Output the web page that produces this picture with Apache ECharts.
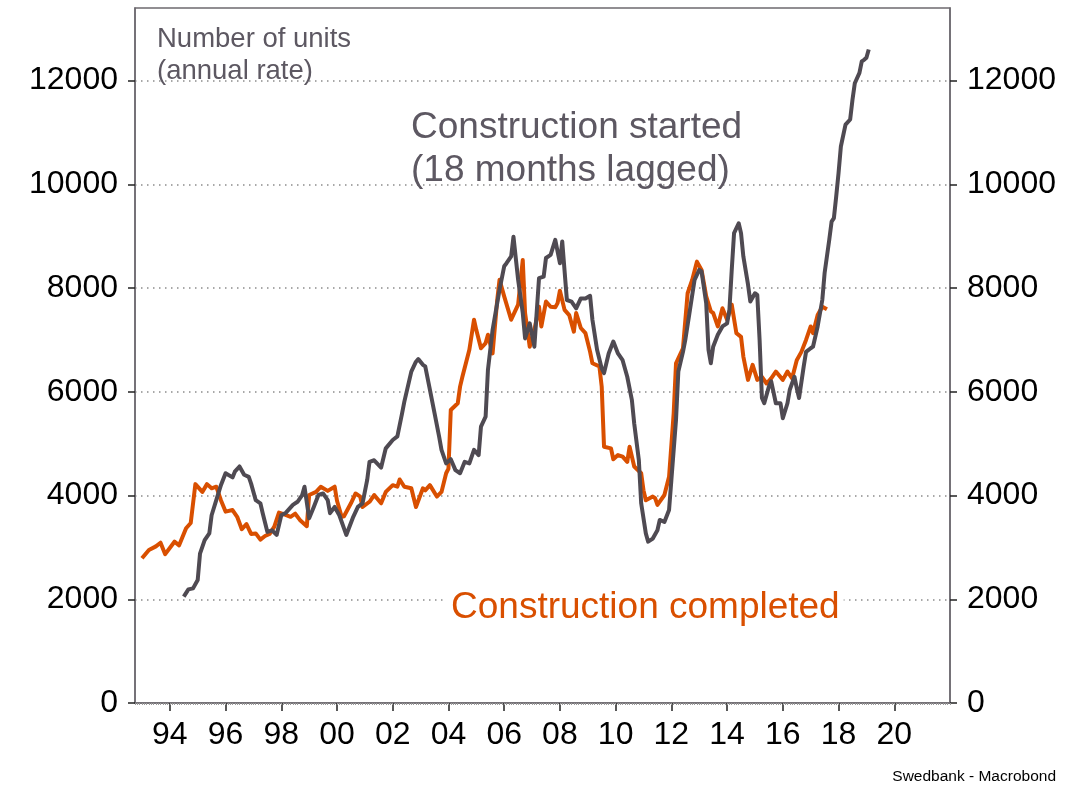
<!DOCTYPE html>
<html>
<head>
<meta charset="utf-8">
<script src="https://cdn.jsdelivr.net/npm/echarts@6/dist/echarts.min.js"></script>
<style>
  html, body { margin: 0; padding: 0; background: #fff; }
  #chart { width: 1089px; height: 785px; }
</style>
</head>
<body>
<div id="chart"></div>
<script>
// x tick labels (every second year), y tick labels
var yearTicks = [1994, 1996, 1998, 2000, 2002, 2004, 2006, 2008, 2010, 2012, 2014, 2016, 2018, 2020];
var unitTicks = [0, 2000, 4000, 6000, 8000, 10000, 12000];

// Construction completed (annual rate)
var completed = [
  ['1993-01', 2790], ['1993-04', 2950], ['1993-07', 3020], ['1993-09', 3090], ['1993-11', 2870],
  ['1994-03', 3110], ['1994-05', 3040], ['1994-08', 3370], ['1994-10', 3470], ['1994-12', 4220],
  ['1995-03', 4070], ['1995-05', 4220], ['1995-07', 4140], ['1995-09', 4170], ['1995-11', 3910],
  ['1996-01', 3690], ['1996-04', 3720], ['1996-06', 3590], ['1996-08', 3350], ['1996-10', 3450],
  ['1996-12', 3260], ['1997-02', 3270], ['1997-04', 3150], ['1997-06', 3220], ['1997-08', 3260],
  ['1997-10', 3400], ['1997-12', 3670], ['1998-02', 3640], ['1998-05', 3590], ['1998-07', 3650],
  ['1998-09', 3530], ['1998-12', 3410], ['1999-01', 4010], ['1999-04', 4070], ['1999-06', 4170],
  ['1999-09', 4090], ['1999-12', 4170], ['2000-01', 3900], ['2000-03', 3590], ['2000-04', 3600],
  ['2000-07', 3850], ['2000-09', 4040], ['2000-11', 3980], ['2000-12', 3780], ['2001-03', 3880],
  ['2001-05', 4010], ['2001-08', 3850], ['2001-10', 4070], ['2002-01', 4200], ['2002-03', 4170],
  ['2002-04', 4310], ['2002-06', 4170], ['2002-09', 4140], ['2002-11', 3780], ['2003-02', 4140],
  ['2003-03', 4100], ['2003-05', 4200], ['2003-08', 3980], ['2003-10', 4070], ['2003-12', 4430],
  ['2004-01', 4520], ['2004-02', 5650], ['2004-05', 5780], ['2004-06', 6100], ['2004-07', 6290],
  ['2004-10', 6810], ['2004-12', 7390], ['2005-01', 7190], ['2005-03', 6840], ['2005-05', 6940],
  ['2005-06', 7100], ['2005-08', 6740], ['2005-10', 7770], ['2005-11', 8160], ['2006-01', 7840],
  ['2006-04', 7390], ['2006-07', 7680], ['2006-09', 8540], ['2006-10', 7520], ['2006-12', 6870],
  ['2007-02', 7190], ['2007-04', 7640], ['2007-05', 7260], ['2007-07', 7740], ['2007-09', 7640],
  ['2007-11', 7630], ['2007-12', 7710], ['2008-01', 7950], ['2008-03', 7580], ['2008-05', 7480],
  ['2008-07', 7160], ['2008-08', 7520], ['2008-10', 7230], ['2008-12', 7130], ['2009-02', 6770],
  ['2009-03', 6550], ['2009-06', 6490], ['2009-07', 6100], ['2009-08', 4940], ['2009-11', 4910],
  ['2009-12', 4700], ['2010-02', 4780], ['2010-04', 4750], ['2010-06', 4650], ['2010-07', 4940],
  ['2010-09', 4560], ['2010-12', 4430], ['2011-01', 4100], ['2011-02', 3910], ['2011-05', 3980],
  ['2011-06', 3950], ['2011-07', 3820], ['2011-10', 4010], ['2011-12', 4360], ['2012-02', 5590],
  ['2012-03', 6550], ['2012-06', 6840], ['2012-08', 7900], ['2012-10', 8160], ['2012-12', 8510],
  ['2013-02', 8350], ['2013-04', 7840], ['2013-06', 7550], ['2013-07', 7520], ['2013-09', 7260],
  ['2013-11', 7610], ['2014-01', 7390], ['2014-03', 7680], ['2014-05', 7130], ['2014-07', 7060],
  ['2014-08', 6680], ['2014-10', 6230], ['2014-12', 6520], ['2015-02', 6230], ['2015-04', 6290],
  ['2015-06', 6160], ['2015-08', 6260], ['2015-10', 6390], ['2016-01', 6230], ['2016-03', 6390],
  ['2016-05', 6260], ['2016-07', 6610], ['2016-09', 6770], ['2016-11', 7000], ['2017-01', 7260],
  ['2017-02', 7130], ['2017-04', 7480], ['2017-06', 7640], ['2017-08', 7590]
];

// Construction started, lagged 18 months (annual rate)
var started = [
  ['1994-07', 2050], ['1994-09', 2190], ['1994-11', 2210], ['1995-01', 2370], ['1995-02', 2880],
  ['1995-04', 3140], ['1995-06', 3270], ['1995-07', 3620], ['1995-09', 3910], ['1995-11', 4200],
  ['1996-01', 4430], ['1996-04', 4350], ['1996-05', 4460], ['1996-07', 4560], ['1996-09', 4400],
  ['1996-11', 4360], ['1996-12', 4230], ['1997-02', 3910], ['1997-04', 3850], ['1997-05', 3660],
  ['1997-07', 3300], ['1997-09', 3330], ['1997-11', 3240], ['1998-01', 3620], ['1998-03', 3670],
  ['1998-06', 3820], ['1998-08', 3880], ['1998-10', 4010], ['1998-11', 4170], ['1999-01', 3560],
  ['1999-03', 3780], ['1999-05', 4010], ['1999-07', 4040], ['1999-09', 3910], ['1999-10', 3660],
  ['1999-12', 3780], ['2000-02', 3620], ['2000-05', 3240], ['2000-08', 3590], ['2000-10', 3780],
  ['2000-12', 3850], ['2001-02', 4300], ['2001-03', 4650], ['2001-05', 4680], ['2001-08', 4540],
  ['2001-10', 4910], ['2002-01', 5070], ['2002-03', 5140], ['2002-05', 5580], ['2002-06', 5810],
  ['2002-09', 6390], ['2002-11', 6580], ['2002-12', 6630], ['2003-02', 6520], ['2003-03', 6490],
  ['2003-05', 6040], ['2003-07', 5590], ['2003-09', 5130], ['2003-10', 4880], ['2003-12', 4620],
  ['2004-02', 4700], ['2004-04', 4490], ['2004-06', 4430], ['2004-08', 4650], ['2004-10', 4620],
  ['2004-12', 4880], ['2005-02', 4780], ['2005-03', 5330], ['2005-05', 5520], ['2005-06', 6420],
  ['2005-08', 7190], ['2005-10', 7710], ['2005-11', 7970], ['2006-01', 8420], ['2006-02', 8480],
  ['2006-04', 8610], ['2006-05', 8990], ['2006-07', 8160], ['2006-09', 7520], ['2006-10', 7030],
  ['2006-12', 7320], ['2007-02', 6870], ['2007-04', 8190], ['2007-06', 8220], ['2007-07', 8580],
  ['2007-09', 8640], ['2007-11', 8930], ['2008-01', 8480], ['2008-02', 8900], ['2008-04', 7770],
  ['2008-06', 7740], ['2008-08', 7610], ['2008-10', 7800], ['2008-12', 7800], ['2009-02', 7850],
  ['2009-03', 7390], ['2009-05', 6810], ['2009-07', 6450], ['2009-08', 6360], ['2009-10', 6740],
  ['2009-12', 6970], ['2010-02', 6740], ['2010-04', 6610], ['2010-06', 6290], ['2010-08', 5840],
  ['2010-09', 5390], ['2010-11', 4680], ['2010-12', 3850], ['2011-02', 3270], ['2011-03', 3110],
  ['2011-05', 3170], ['2011-07', 3330], ['2011-08', 3530], ['2011-10', 3490], ['2011-12', 3720],
  ['2012-01', 4300], ['2012-03', 5460], ['2012-04', 6390], ['2012-06', 6770], ['2012-07', 7000],
  ['2012-09', 7580], ['2012-11', 8160], ['2013-01', 8350], ['2013-02', 8320], ['2013-04', 7710],
  ['2013-05', 6810], ['2013-06', 6550], ['2013-07', 6870], ['2013-09', 7100], ['2013-11', 7260],
  ['2014-01', 7320], ['2014-02', 7580], ['2014-03', 8350], ['2014-04', 9060], ['2014-06', 9250],
  ['2014-07', 9060], ['2014-08', 8610], ['2014-10', 8070], ['2014-11', 7740], ['2015-01', 7900],
  ['2015-02', 7870], ['2015-03', 7000], ['2015-04', 5880], ['2015-05', 5780], ['2015-07', 6100],
  ['2015-08', 6200], ['2015-10', 5780], ['2015-12', 5780], ['2016-01', 5490], ['2016-03', 5780],
  ['2016-04', 6040], ['2016-06', 6290], ['2016-07', 6070], ['2016-08', 5880], ['2016-10', 6490],
  ['2016-11', 6770], ['2017-01', 6840], ['2017-02', 6870], ['2017-04', 7260], ['2017-06', 7770],
  ['2017-07', 8290], ['2017-09', 8930], ['2017-10', 9280], ['2017-11', 9350], ['2017-12', 9770],
  ['2018-01', 10220], ['2018-02', 10730], ['2018-04', 11150], ['2018-06', 11250], ['2018-07', 11630],
  ['2018-08', 11950], ['2018-10', 12150], ['2018-11', 12370], ['2018-12', 12400], ['2019-01', 12440],
  ['2019-02', 12600]
];

var colorStarted = '#4f4a52';
var colorCompleted = '#d94f00';
var frameColor = '#6d696f';
var font = '"Liberation Sans", Arial, sans-serif';

function toYear(s) {
  var p = s.split('-');
  return +p[0] + (+p[1] - 1) / 12;
}
function toPoints(list) {
  return list.map(function (d) { return [toYear(d[0]), d[1]]; });
}

var xMin = 1992.75, xMax = 2022;
// monthly minor tick positions
var monthTicks = [];
for (var m = 0; xMin + m / 12 <= xMax + 1e-6; m++) {
  monthTicks.push(xMin + m / 12);
}

var chart = echarts.init(document.getElementById('chart'), null, {renderer: 'canvas'});

var yAxisBase = function (pos) {
  return {
    type: 'value',
    position: pos,
    min: 0,
    max: 13400,
    interval: 2000,
    axisLine: {show: true, lineStyle: {color: frameColor, width: 1.5}},
    axisTick: {show: true, length: 7, customValues: unitTicks, lineStyle: {color: '#222', width: 1.5}},
    axisLabel: {
      customValues: unitTicks,
      margin: 17,
      fontSize: 32,
      color: '#000',
      fontFamily: font,
      formatter: function (v) { return String(v); }
    },
    splitLine: {
      show: pos === 'left',
      lineStyle: {color: '#8c8c8c', width: 1.5, type: [1.5, 4.5]}
    }
  };
};

var option = {
  animation: false,
  backgroundColor: '#fff',
  grid: {
    left: 135, right: 139, top: 8, bottom: 82,
    show: true,
    borderColor: frameColor,
    borderWidth: 1.5,
    backgroundColor: 'transparent'
  },
  xAxis: [{
    type: 'value',
    min: xMin,
    max: xMax,
    position: 'bottom',
    axisLine: {show: true, onZero: false, lineStyle: {color: frameColor, width: 1.5}},
    axisTick: {show: true, length: 8, customValues: yearTicks, lineStyle: {color: '#222', width: 1.5}},
    axisLabel: {
      customValues: yearTicks,
      margin: 16,
      fontSize: 32,
      color: '#000',
      fontFamily: font,
      formatter: function (v) {
        var y = Math.round(v) % 100;
        return (y < 10 ? '0' : '') + y;
      }
    },
    splitLine: {show: false}
  }, {
    type: 'value',
    min: xMin,
    max: xMax,
    position: 'bottom',
    axisLine: {show: false},
    axisTick: {show: true, length: 2, customValues: monthTicks, lineStyle: {color: '#9a9a9a', width: 1}},
    axisLabel: {show: false},
    splitLine: {show: false}
  }],
  yAxis: [yAxisBase('left'), yAxisBase('right')],
  series: [{
    name: 'Construction completed',
    type: 'line',
    data: toPoints(completed),
    showSymbol: false,
    lineStyle: {color: colorCompleted, width: 4, join: 'round'},
    z: 3
  }, {
    name: 'Construction started (18 months lagged)',
    type: 'line',
    data: toPoints(started),
    showSymbol: false,
    lineStyle: {color: colorStarted, width: 4, join: 'round'},
    z: 4
  }],
  graphic: [{
    type: 'text', left: 157, top: 23, z: 10,
    style: {text: 'Number of units\n(annual rate)', fill: '#5d5862', font: '27.5px ' + font, lineHeight: 32}
  }, {
    type: 'text', left: 411, top: 106, z: 10,
    style: {text: 'Construction started\n(18 months lagged)', fill: '#5d5862', font: '37px ' + font, lineHeight: 43}
  }, {
    type: 'text', left: 447, top: 587, z: 10,
    style: {
      text: 'Construction completed', fill: colorCompleted, font: '37px ' + font,
      backgroundColor: '#fff', padding: [2, 4, 2, 4]
    }
  }, {
    type: 'text', right: 33, top: 769, z: 10,
    style: {text: 'Swedbank - Macrobond', fill: '#000', font: '15.5px ' + font}
  }]
};

chart.setOption(option);
</script>
</body>
</html>
